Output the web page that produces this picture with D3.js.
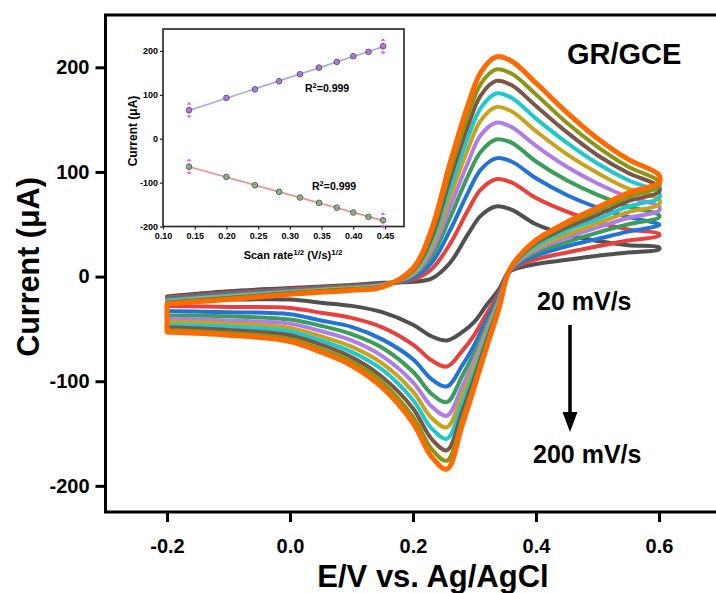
<!DOCTYPE html>
<html><head><meta charset="utf-8">
<script src="https://cdn.jsdelivr.net/npm/d3@7"></script>
<style>
body{margin:0;background:#fff}
svg{display:block}
text{font-family:"Liberation Sans",Arial,Helvetica,sans-serif;font-weight:bold;fill:#000}
</style>
</head><body>
<svg id="chart" width="716" height="593"></svg>
<script>
// ---------------- DATA ----------------
const scanRates = ["20","40","60","80","100","120","140","160","180","200"];
const curveColors = ["#505050","#e8413c","#2273d8","#3a9e5a","#b07de6","#c9a21b","#1fc8cf","#7a5548","#8b9418","#ff6a00"];

// potentials (V) of the forward (anodic) and reverse (cathodic) sweeps
const eForward = [-0.2,-0.1,0,0.1,0.15,0.2,0.23,0.26,0.29,0.31,0.335,0.36,0.4,0.45,0.5,0.55,0.6];
const eReverse = [0.6,0.55,0.5,0.45,0.4,0.37,0.355,0.34,0.32,0.3,0.28,0.255,0.23,0.2,0.15,0.1,0.05,0,-0.1,-0.2];

// currents (µA), forward sweep
const fwd20  = [-19,-14,-11,-8,-6,-5,-2,13,41,58,67,64,50,40,34,30,28];
const fwd40  = [-20,-15.5,-12,-9,-7,-3,7,31,64,83,93,90,75,62,52,45,41];
const fwd60  = [-21,-16.5,-13,-9.5,-7.5,-1,13,44,81,102,113,110,94,78,66,57,50];
const fwd80  = [-22,-17.5,-13.5,-10,-8,1,19,56,97,119,131,128,110,92,78,67,59];
const fwd100 = [-23,-18.5,-14.5,-11,-8,2,24,66,110,135,147,143,125,105,89,76,67];
const fwd120 = [-23.5,-19,-15,-11,-8.5,3.5,29,76,123,149,162,158,139,117,99,84,74];
const fwd140 = [-24,-20,-15.5,-12,-9,5,33,84,134,161,175,171,151,128,108,92,80];
const fwd160 = [-25,-20.5,-16,-12,-9.5,6,37,93,145,173,187,183,163,138,116,99,86];
const fwd180 = [-25.5,-21,-16.5,-12.5,-9.5,7,41,100,155,184,198,194,174,147,124,105,91];
const fwd200 = [-26,-22,-17,-13,-10,8,45,108,165,195,210,206,185,157,132,112,97];

// currents (µA), reverse sweep
const rev20  = [26,23,20,16,12,8,4,-12,-27,-43,-53,-61,-57,-46,-34,-28,-25,-22,-22,-22];
const rev40  = [39,34.5,29,23,16.5,10,4,-15.5,-35,-55.5,-71,-86,-80,-65,-48.5,-39.5,-34.5,-30,-29,-28];
const rev60  = [49,43,36,29,20,11.5,4,-18.5,-41,-65,-85,-105,-98,-79,-60,-48,-42,-36,-34,-33];
const rev80  = [56.5,50,42,33,23,13,4,-20.5,-46,-72.5,-95,-120,-112,-91,-68,-55,-47,-41,-38,-37];
const rev100 = [63,56,47,37,25.5,14,4,-22.5,-50,-79,-105,-133,-124,-101,-76,-61,-52,-45,-42,-40];
const rev120 = [69,61.5,51,40,27.5,15,4,-24,-54,-85,-113,-144,-135,-110,-83,-67,-57,-49,-45,-43];
const rev140 = [75,67,55,44,29.5,15.5,4,-26,-57.5,-90.5,-121,-155,-145,-118,-89,-72,-61,-52.5,-48,-46];
const rev160 = [81,72,59,47,32,16.5,4,-27.5,-61,-96,-129,-166,-155,-126,-96,-77,-65,-56,-51,-48.5];
const rev180 = [86,76,63,50,33.5,17.5,4,-29,-64,-101,-136,-176,-164.5,-134,-101,-81,-69,-59.5,-54,-51];
const rev200 = [90,80,66,52,35,18,4,-30,-67,-105,-142,-184,-172,-140,-106,-85,-72,-62,-56,-53];

const forwardSets = [fwd20,fwd40,fwd60,fwd80,fwd100,fwd120,fwd140,fwd160,fwd180,fwd200];
const reverseSets = [rev20,rev40,rev60,rev80,rev100,rev120,rev140,rev160,rev180,rev200];

// main axes ticks
const xTicksMain = [-0.2,0.0,0.2,0.4,0.6];
const yTicksMain = [200,100,0,-100,-200];

// inset: peak current vs square root of scan rate
const sqrtRate = [0.141,0.200,0.245,0.283,0.316,0.346,0.374,0.400,0.424,0.447];
const ipa = [65,93,112.5,131,147,162,175,188,198,210.5];
const ipc = [-64,-87,-106,-121,-134,-146,-157,-168,-178,-186];
const xTicksInset = [0.10,0.15,0.20,0.25,0.30,0.35,0.40,0.45];
const yTicksInset = [200,100,0,-100,-200];

// ---------------- DRAW ----------------
const svg = d3.select("#chart");

const x = d3.scaleLinear().domain([-0.3,0.7]).range([105.5,720.5]);
const y = d3.scaleLinear().domain([-225,250]).range([512,15]);

// curves: smooth forward + reverse sweep, closed with a straight segment at -0.2 V
const line = d3.line().x(d=>x(d[0])).y(d=>y(d[1])).curve(d3.curveCatmullRom.alpha(0.5));
const gCurves = svg.append("g");
forwardSets.forEach((fw,i)=>{
  const pts = eForward.map((e,j)=>[e,fw[j]]).concat(eReverse.map((e,j)=>[e,reverseSets[i][j]]));
  gCurves.append("path").attr("d",line(pts)+"Z").attr("fill","none")
    .attr("stroke",curveColors[i]).attr("stroke-width",i===9?5:4)
    .attr("stroke-linejoin","round").attr("stroke-linecap","round");
});

// frame
svg.append("rect").attr("x",x(-0.3)).attr("y",y(250)).attr("width",x(0.7)-x(-0.3)).attr("height",y(-225)-y(250))
  .attr("fill","none").attr("stroke","#000").attr("stroke-width",3);

const xAxis = svg.append("g").attr("transform",`translate(0,${y(-225)})`)
  .call(d3.axisBottom(x).tickValues(xTicksMain).tickFormat(d=>d.toFixed(1)).tickSize(10).tickPadding(17));
const yAxis = svg.append("g").attr("transform",`translate(${x(-0.3)},0)`)
  .call(d3.axisLeft(y).tickValues(yTicksMain).tickFormat(d=>String(d)).tickSize(10).tickPadding(6));
[xAxis,yAxis].forEach(a=>{
  a.select(".domain").remove();
  a.selectAll(".tick line").attr("stroke","#000").attr("stroke-width",3);
  a.selectAll(".tick text").style("font-size","20px").style("font-weight","bold").attr("fill","#000");
});

// axis titles
svg.append("text").attr("x",433).attr("y",587).attr("text-anchor","middle").style("font-size","31px").text("E/V vs. Ag/AgCl");
svg.append("text").attr("transform","translate(39,267) rotate(-90)").attr("text-anchor","middle").style("font-size","30.5px").text("Current (μA)");

// annotations
svg.append("text").attr("x",567).attr("y",64).style("font-size","29px").text("GR/GCE");
svg.append("text").attr("x",537).attr("y",310).style("font-size","25px").text("20 mV/s");
svg.append("text").attr("x",533).attr("y",463).style("font-size","25px").text("200 mV/s");
svg.append("line").attr("x1",570).attr("x2",570).attr("y1",325).attr("y2",414).attr("stroke","#000").attr("stroke-width",3.5);
svg.append("path").attr("d","M562.5,412 L577.5,412 L570,432 Z").attr("fill","#000");

// ---------------- INSET ----------------
const xi = d3.scaleLinear().domain([0.10,0.48]).range([163,404]);
const yi = d3.scaleLinear().domain([-200,250]).range([226.5,29]);
const gi = svg.append("g");
gi.append("rect").attr("x",163).attr("y",29).attr("width",241).attr("height",197.5).attr("fill","#fff").attr("stroke","#222").attr("stroke-width",1.6);

function fit(xs,ys){
  const n=xs.length, mx=d3.mean(xs), my=d3.mean(ys);
  let sxy=0,sxx=0; for(let k=0;k<n;k++){sxy+=(xs[k]-mx)*(ys[k]-my);sxx+=(xs[k]-mx)**2;}
  const b=sxy/sxx; return [b,my-b*mx];
}
[[ipa,"#a7a4ea","#9b6cc2","#6b4a8c"],[ipc,"#e9918a","#7fa47c","#4f6b4f"]].forEach(([vals,lc,fc,sc])=>{
  const [b,a]=fit(sqrtRate,vals);
  const x0=sqrtRate[0], x1=sqrtRate[sqrtRate.length-1];
  gi.append("line").attr("x1",xi(x0)).attr("x2",xi(x1)).attr("y1",yi(a+b*x0)).attr("y2",yi(a+b*x1)).attr("stroke",lc).attr("stroke-width",1.6);
  [0,vals.length-1].forEach(k=>{
    gi.append("line").attr("x1",xi(sqrtRate[k])).attr("x2",xi(sqrtRate[k])).attr("y1",yi(vals[k]+17)).attr("y2",yi(vals[k]-17))
      .attr("stroke","#ff2dff").attr("stroke-width",1.4).attr("stroke-dasharray","2,2");
    [1,-1].forEach(s=>{
      const yy=yi(vals[k]+s*17), xx=xi(sqrtRate[k]);
      gi.append("path").attr("d",`M${xx-2},${yy+s*2}L${xx},${yy}L${xx+2},${yy+s*2}`).attr("fill","none").attr("stroke","#ff2dff").attr("stroke-width",1);
    });
  });
  gi.selectAll(null).data(vals).enter().append("circle")
    .attr("cx",(d,k)=>xi(sqrtRate[k])).attr("cy",d=>yi(d)).attr("r",2.8)
    .attr("fill",fc).attr("fill-opacity",0.8).attr("stroke",sc).attr("stroke-width",1);
});

const xiAxis = gi.append("g").attr("transform","translate(0,226.5)")
  .call(d3.axisBottom(xi).tickValues(xTicksInset).tickFormat(d=>d.toFixed(2)).tickSize(3).tickPadding(3));
const yiAxis = gi.append("g").attr("transform","translate(163,0)")
  .call(d3.axisLeft(yi).tickValues(yTicksInset).tickFormat(d=>String(d)).tickSize(3).tickPadding(2));
[xiAxis,yiAxis].forEach(a=>{
  a.select(".domain").remove();
  a.selectAll(".tick line").attr("stroke","#222").attr("stroke-width",1.2);
  a.selectAll(".tick text").style("font-size","9px").style("font-weight","bold").attr("fill","#222");
});

const xt = gi.append("text").attr("x",293).attr("y",259).attr("text-anchor","middle").style("font-size","11px");
xt.append("tspan").text("Scan rate");
xt.append("tspan").attr("dy",-4).style("font-size","8px").text("1/2");
xt.append("tspan").attr("dy",4).text(" (V/s)");
xt.append("tspan").attr("dy",-4).style("font-size","8px").text("1/2");
gi.append("text").attr("transform","translate(137,131) rotate(-90)").attr("text-anchor","middle").style("font-size","12px").text("Current (μA)");

[[305,91.5],[312,190]].forEach(([tx,ty])=>{
  const t = gi.append("text").attr("x",tx).attr("y",ty).style("font-size","10.5px");
  t.append("tspan").text("R");
  t.append("tspan").attr("dy",-4).style("font-size","7.5px").text("2");
  t.append("tspan").attr("dy",4).text("=0.999");
});
</script>
</body></html>
